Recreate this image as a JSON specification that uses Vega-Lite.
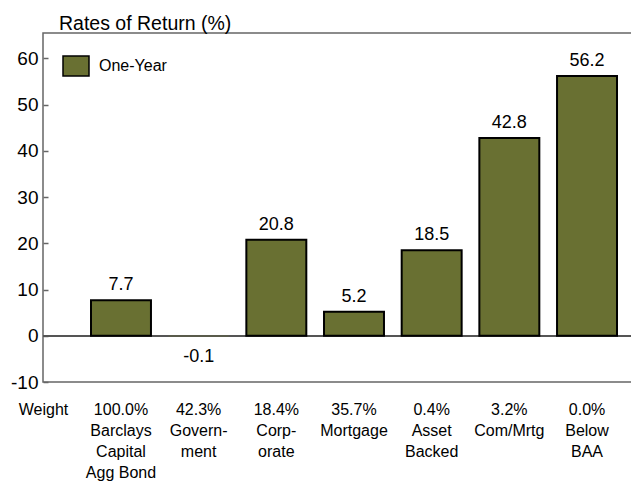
{
  "$schema": "https://vega.github.io/schema/vega-lite/v6.json",
  "width": 622,
  "height": 349,
  "autosize": {"type": "none"},
  "padding": {"left": 43, "top": 33, "right": 0, "bottom": 102},
  "title": {
    "text": "Rates of Return (%)",
    "anchor": "start",
    "frame": "group",
    "dx": 16,
    "offset": -16,
    "baseline": "alphabetic",
    "fontSize": 19.5,
    "fontWeight": "normal",
    "font": "Liberation Sans",
    "color": "#000000"
  },
  "config": {
    "font": "Liberation Sans",
    "view": {"stroke": "#666666", "strokeWidth": 1.5}
  },
  "data": {
    "values": [
      {"cat": "100.0%|Barclays|Capital|Agg Bond", "ret": 7.7, "series": "One-Year"},
      {"cat": "42.3%|Govern-|ment", "ret": -0.1, "series": "One-Year"},
      {"cat": "18.4%|Corp-|orate", "ret": 20.8, "series": "One-Year"},
      {"cat": "35.7%|Mortgage", "ret": 5.2, "series": "One-Year"},
      {"cat": "0.4%|Asset|Backed", "ret": 18.5, "series": "One-Year"},
      {"cat": "3.2%|Com/Mrtg", "ret": 42.8, "series": "One-Year"},
      {"cat": "0.0%|Below|BAA", "ret": 56.2, "series": "One-Year"}
    ]
  },
  "transform": [
    {"calculate": "replace(format(datum.ret, '.1f'), '\u2212', '-')", "as": "lab"}
  ],
  "encoding": {
    "x": {
      "field": "cat",
      "type": "nominal",
      "sort": null,
      "scale": {"paddingInner": 0.228, "paddingOuter": 0.618},
      "axis": {
        "title": "Weight",
        "titleX": 0,
        "titleY": 19,
        "titleAlign": "center",
        "titleBaseline": "top",
        "titleFontSize": 16,
        "titleFontWeight": "normal",
        "titleColor": "#000000",
        "titleAngle": 0,
        "labelExpr": "split(datum.label, '|')",
        "labelAngle": 0,
        "labelFontSize": 16,
        "labelLineHeight": 21,
        "labelBaseline": "top",
        "labelPadding": 19,
        "labelColor": "#000000",
        "labelOverlap": false,
        "labelBound": false,
        "labelLimit": 0,
        "ticks": false,
        "domain": false
      }
    },
    "y": {
      "field": "ret",
      "type": "quantitative",
      "scale": {"domain": [-10, 65.5], "nice": false, "zero": false},
      "axis": {
        "title": null,
        "values": [-10, 0, 10, 20, 30, 40, 50, 60],
        "labelExpr": "replace(datum.label, '\u2212', '-')",
        "grid": false,
        "domain": false,
        "tickSize": -5,
        "tickColor": "#666666",
        "tickWidth": 1.5,
        "labelFontSize": 19,
        "labelPadding": 10,
        "labelColor": "#000000"
      }
    }
  },
  "layer": [
    {
      "mark": {"type": "rule", "color": "#555555", "strokeWidth": 1.5},
      "encoding": {"y": {"datum": 0}, "x": {"value": 0}, "x2": {"value": 622}}
    },
    {
      "mark": {"type": "bar", "stroke": "#000000", "strokeWidth": 2},
      "encoding": {
        "strokeOpacity": {"condition": {"test": "abs(datum.ret) < 0.5", "value": 0}, "value": 1},
        "color": {
          "field": "series",
          "type": "nominal",
          "scale": {"range": ["#697032"]},
          "legend": {
            "title": null,
            "orient": "top-left",
            "offset": 19,
            "padding": 0,
            "symbolType": "M-1,-0.77H1V0.77H-1Z",
            "symbolSize": 676,
            "symbolStrokeColor": "#000000",
            "symbolStrokeWidth": 1.5,
            "labelFontSize": 16,
            "labelColor": "#000000",
            "labelOffset": 9
          }
        }
      }
    },
    {
      "transform": [{"filter": "datum.ret >= 0"}],
      "mark": {"type": "text", "baseline": "alphabetic", "dy": -10, "fontSize": 18, "color": "#000000"},
      "encoding": {"text": {"field": "lab", "type": "nominal"}}
    },
    {
      "transform": [{"filter": "datum.ret < 0"}],
      "mark": {"type": "text", "baseline": "alphabetic", "dy": 26, "fontSize": 18, "color": "#000000"},
      "encoding": {"text": {"field": "lab", "type": "nominal"}}
    }
  ]
}
